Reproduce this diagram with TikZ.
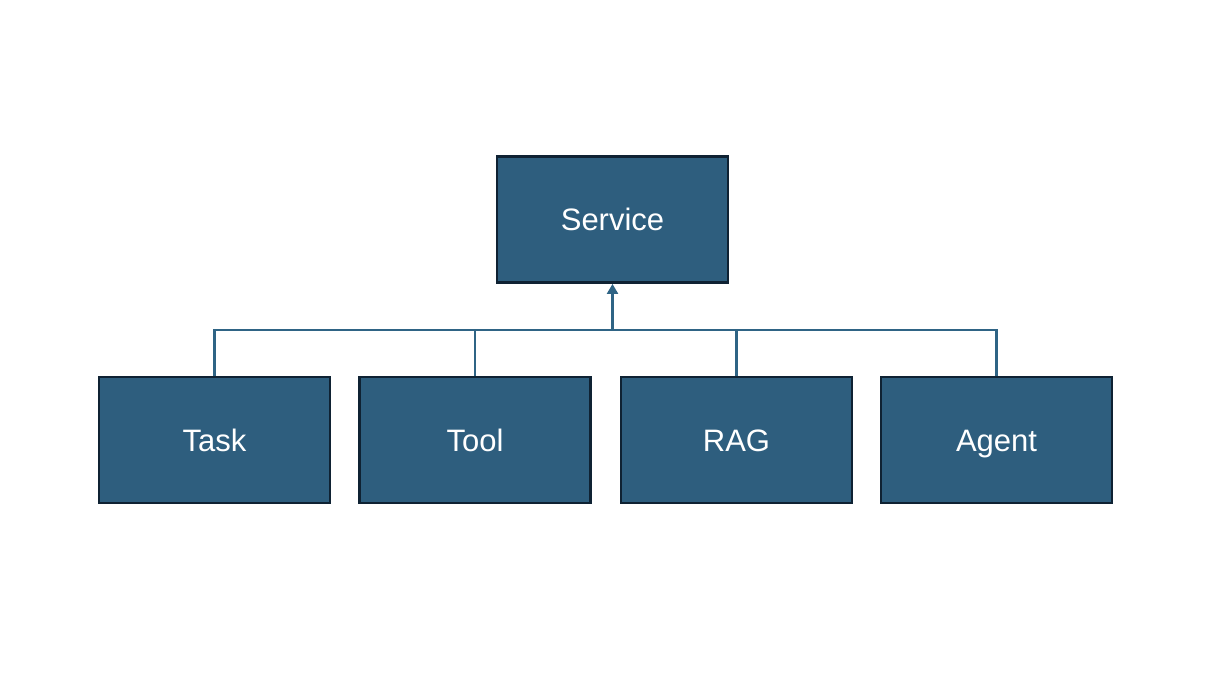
\documentclass[tikz,border=0pt]{standalone}
\usepackage{fontspec}
\setmainfont{Liberation Sans}
\usetikzlibrary{arrows.meta}
\definecolor{boxfill}{HTML}{2E5E7E}
\definecolor{boxline}{HTML}{0F2233}
\definecolor{conn}{HTML}{2F6485}
\tikzset{
  blk/.style={draw=boxline, line width=2.8pt, fill=boxfill, minimum width=231pt, minimum height=126pt, inner sep=0pt, text=white, font=\fontsize{31}{34}\selectfont, text height=22pt, text depth=0pt},
  conline/.style={draw=conn, line width=2.2pt}
}
\begin{document}
\begin{tikzpicture}[x=1pt,y=-1pt]
\useasboundingbox (0,0) rectangle (1230,674);
\node[blk] (service) at (612.5,219.5) {Service};
\node[blk] (task) at (214.5,440) {Task};
\node[blk] (tool) at (475,440) {Tool};
\node[blk] (rag) at (736.5,440) {RAG};
\node[blk] (agent) at (996.5,440) {Agent};
\coordinate (bus) at (612.5,330);
\draw[conline] (task.north) |- (bus);
\draw[conline] (tool.north) |- (bus);
\draw[conline] (rag.north) |- (bus);
\draw[conline] (agent.north) |- (bus);
\draw[conline, -{Triangle[width=11pt,length=10pt]}] (bus) -- (service.south);
\end{tikzpicture}
\end{document}
